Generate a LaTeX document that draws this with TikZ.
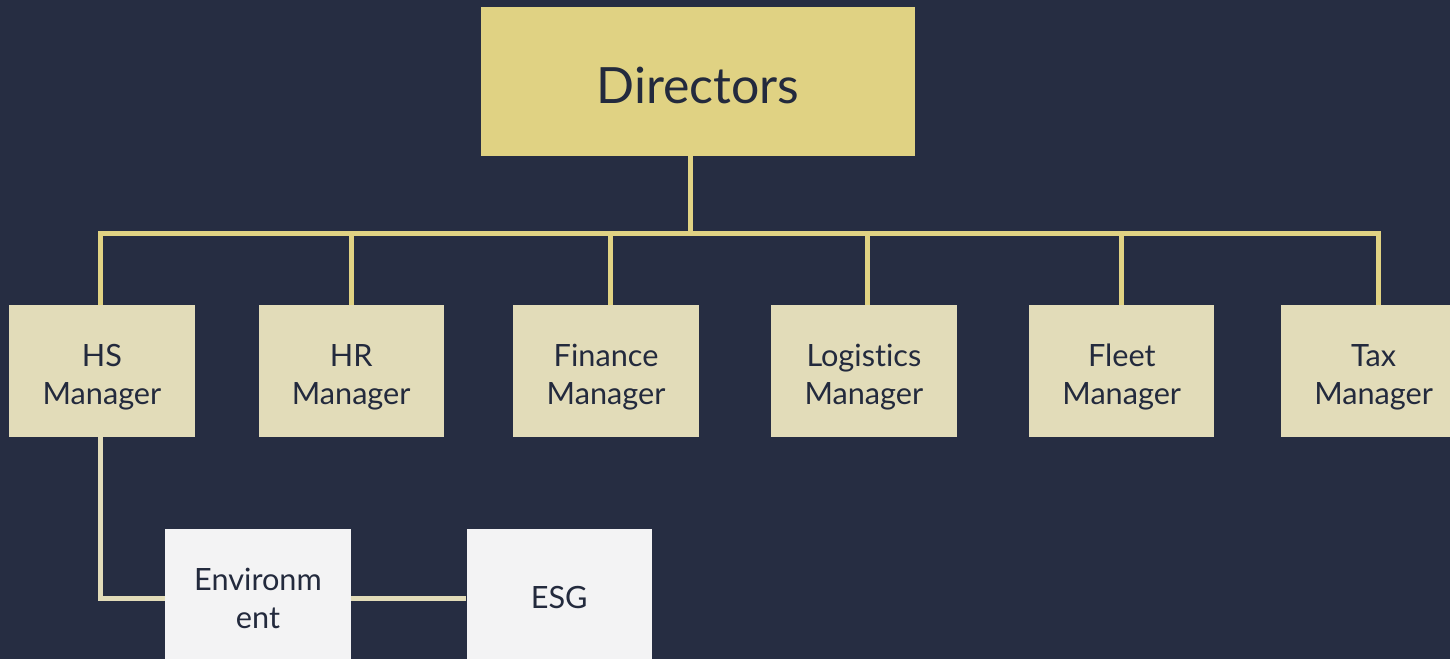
\documentclass[tikz,border=0pt]{standalone}
\usepackage{fontspec}
\setmainfont{Lato}[Ligatures=NoCommon]
\usetikzlibrary{positioning}
\definecolor{night}{HTML}{262D42}
\definecolor{gold}{HTML}{E0D283}
\definecolor{sand}{HTML}{E2DCB9}
\definecolor{paper}{HTML}{F3F3F4}
\definecolor{ink}{HTML}{232A3D}
\tikzset{x=0.75pt, y=-0.75pt, % one unit is one pixel, y runs downwards
every node/.style={text=ink, align=center, inner sep=0pt}, % dark centred text
boss/.style={fill=gold, minimum width=325.5pt, minimum height=111.75pt, text height=33pt, text depth=0pt, font=\fontsize{37.5}{45}\selectfont}, % top box
manager/.style={fill=sand, minimum width=139pt, minimum height=98.25pt, text height=50pt, text depth=0pt, font=\fontsize{23}{28.5}\selectfont}, % second row
team/.style={fill=paper, minimum width=139pt, minimum height=103.5pt, font=\fontsize{23}{28.5}\selectfont}, % third row
link/.style={draw=gold, line width=3.75pt}, % lines of the top level
sublink/.style={draw=sand, line width=3.75pt}, % lines of the lower level
}

\begin{document}
\begin{tikzpicture}
\fill[night] (0,0) rectangle (1450,659);
\useasboundingbox (0,0) rectangle (1450,659);
\clip (0,0) rectangle (1450,659);
\coordinate (bus) at (690,234);
\node[boss] (dir) at (698,81.5) {Directors};
\node[manager] (hs) at (102,371) {HS\\Manager};
\node[manager, right=47.5pt of hs] (hr) {HR\\Manager};
\node[manager, right=51.75pt of hr] (fin) {Finance\\Manager};
\node[manager, right=54pt of fin] (log) {Logistics\\Manager};
\node[manager, right=54pt of log] (fleet) {Fleet\\Manager};
\node[manager, right=49.5pt of fleet] (tax) {Tax\\Manager};
\node[team] (env) at (258,598) {Environm\\ent};
\node[team, right=86.5pt of env] (esg) {ESG};
\draw[link] (dir.south -| bus) -- (bus);
\draw[link] ([xshift=-1.5pt]hs.north) -- ([xshift=-1.5pt]hs.north |- bus) -| ([xshift=3.4pt]tax.north);
\draw[link] (hr.north) -- (hr.north |- bus)
([xshift=3pt]fin.north) -- ([xshift=3pt]fin.north |- bus)
([xshift=2.6pt]log.north) -- ([xshift=2.6pt]log.north |- bus)
(fleet.north) -- (fleet.north |- bus);
\draw[sublink] ([xshift=-1.5pt]hs.south) |- (env.west);
\draw[sublink] (env.east) -- (esg.west);
\end{tikzpicture}
\end{document}
